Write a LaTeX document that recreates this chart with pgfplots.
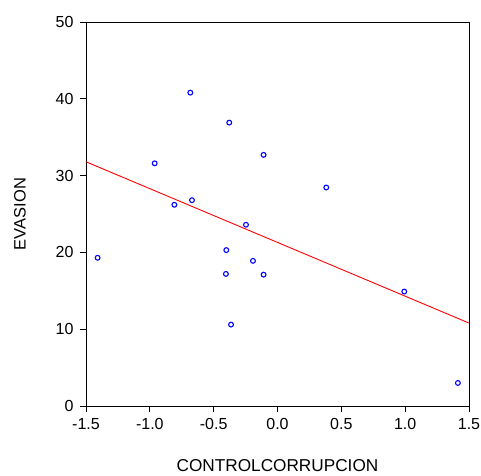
\documentclass[border=0pt]{standalone}
\usepackage{pgfplots}
\pgfplotsset{compat=1.18}
\usepackage{fontspec}
\setmainfont{Liberation Sans}
\begin{document}
\fontsize{16bp}{19bp}\selectfont
\begin{tikzpicture}
\begin{axis}[
  scale only axis,
  width=383bp, height=384bp,
  xmin=-1.5, xmax=1.5, ymin=0, ymax=50,
  xtick={-1.5,-1.0,-0.5,0,0.5,1.0,1.5},
  ytick={0,10,20,30,40,50},
  xticklabel style={/pgf/number format/.cd,fixed,fixed zerofill,precision=1},
  /pgf/number format/assume math mode=true,
  tick align=outside,
  major tick length=6bp,
  tick style={black, line width=0.8bp},
  axis line style={black, line width=0.8bp},
  xtick pos=bottom, ytick pos=left,
  xticklabel shift=1bp,
  yticklabel shift=1bp,
  xlabel={CONTROLCORRUPCION},
  ylabel={EVASION},
  xlabel style={at={(axis description cs:0.5,-0.156)}, anchor=center, font=\fontsize{17.2bp}{20bp}\selectfont},
  ylabel style={at={(axis description cs:-0.1723,0.5)}, anchor=center, rotate=0, font=\fontsize{16.5bp}{20bp}\selectfont},
  clip=false,
]
\addplot[only marks, mark=o, mark size=2.4bp, blue, mark options={line width=1.1bp}] coordinates {
(-0.683,40.8) (-0.378,36.9) (-0.109,32.7) (-0.962,31.6) (0.382,28.45)
(-0.670,26.8) (-0.808,26.2) (-0.247,23.6) (-1.409,19.3) (-0.401,20.3)
(-0.192,18.9) (-0.404,17.2) (-0.109,17.1) (-0.364,10.6) (0.993,14.9)
(1.413,3.0)
};
\addplot[red, line width=0.9bp] coordinates {(-1.5,31.8) (1.5,10.8)};
\end{axis}
\pgfresetboundingbox
\path[use as bounding box] ([shift={(-86bp,-70bp)}]current axis.south west) rectangle ([shift={(12bp,22bp)}]current axis.north east);
\end{tikzpicture}
\end{document}
